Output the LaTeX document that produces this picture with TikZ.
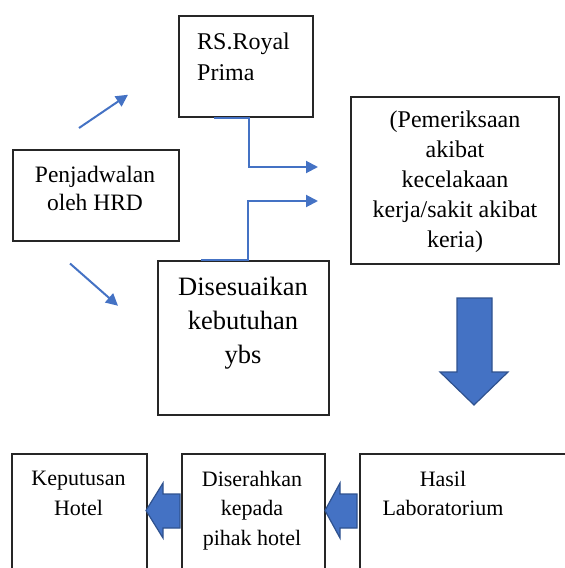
\documentclass[tikz,border=0pt]{standalone}
\usepackage{fontspec}
\setmainfont{Liberation Serif}
\usetikzlibrary{arrows.meta,positioning,calc}

\definecolor{lineblue}{HTML}{4472C4}
\definecolor{edgeblue}{HTML}{2F528F}

\tikzset{
  box/.style={draw=black!85, line width=1.5pt, inner sep=0pt, anchor=north west},
  txt/.style={inner sep=0pt, anchor=north, align=center, font=\fontsize{22}{29.5}\selectfont},
  flow/.style={draw=lineblue, line width=2pt, -{Triangle[length=12pt,width=12pt]}},
  bigarrow/.style={fill=lineblue, draw=edgeblue, line width=1.2pt, line join=miter},
}

\begin{document}
\begin{tikzpicture}[x=1pt,y=-1pt]
          \path[use as bounding box] (0,0) rectangle (565,568);
          \clip (0,0) rectangle (565,568);
          \node[box, minimum width=134pt, minimum height=101pt] (rs) at (178,15) {};
          \node[txt, anchor=north west, align=left, font=\fontsize{24}{31}\selectfont] (rs-t) at (197,33) {RS.Royal\\Prima};
          \node[box, minimum width=166pt, minimum height=91pt] (pj) at (12,149) {};
          \node[txt, font=\fontsize{23.5}{28}\selectfont] (pj-t) at (95,166) {Penjadwalan\\oleh HRD};
          \node[box, minimum width=208pt, minimum height=167pt] (pk) at (350,96) {};
          \node[txt, font=\fontsize{24}{30}\selectfont] (pk-t) at (455,111) {(Pemeriksaan\\akibat\\kecelakaan\\kerja/sakit akibat\\keria)};
          \node[box, minimum width=171pt, minimum height=154pt] (ds) at (157,260) {};
          \node[txt, font=\fontsize{26.5}{34}\selectfont] (ds-t) at (243,277) {Disesuaikan\\kebutuhan\\ybs};
          \node[box, minimum width=135pt, minimum height=150pt] (kh) at (11,453) {};
          \node[txt] (kh-t) at (78.5,471) {Keputusan\\Hotel};
          \node[box, minimum width=143pt, minimum height=150pt] (dh) at (181,453) {};
          \node[txt] (dh-t) at (252,471) {Diserahkan\\kepada\\pihak hotel};
          \node[box, minimum width=240pt, minimum height=150pt] (hl) at (359,453) {};
          \node[txt] (hl-t) at (443,471) {Hasil\\Laboratorium};
          \coordinate (in1) at (318,167);
          \coordinate (in2) at (318,201);
          \draw[flow] ([xshift=-32pt]rs.south) -- ([xshift=3pt]rs.south) |- (in1);
          \draw[flow] ([xshift=-42pt]ds.north) -- ([xshift=5pt]ds.north) |- (in2);
          \draw[flow] ([xshift=67pt,yshift=21pt]pj.north west) -- ([xshift=-50pt,yshift=-28.5pt]rs.west);
          \draw[flow] ([xshift=58pt,yshift=-22pt]pj.south west) -- ([xshift=-39pt,yshift=32pt]ds.west);
          \draw[bigarrow] (457,298) -- (492,298) -- (492,372) -- (508,372) -- (474,405) -- (440,372) -- (457,372) -- cycle;
          \draw[bigarrow] (180,494) -- (163,494) -- (163,483) -- (146,510.5) -- (163,538) -- (163,528) -- (180,528) -- cycle;
          \draw[bigarrow] (357,494) -- (340,494) -- (340,483) -- (325,510.5) -- (340,538) -- (340,528) -- (357,528) -- cycle;
        \end{tikzpicture}
\end{document}
